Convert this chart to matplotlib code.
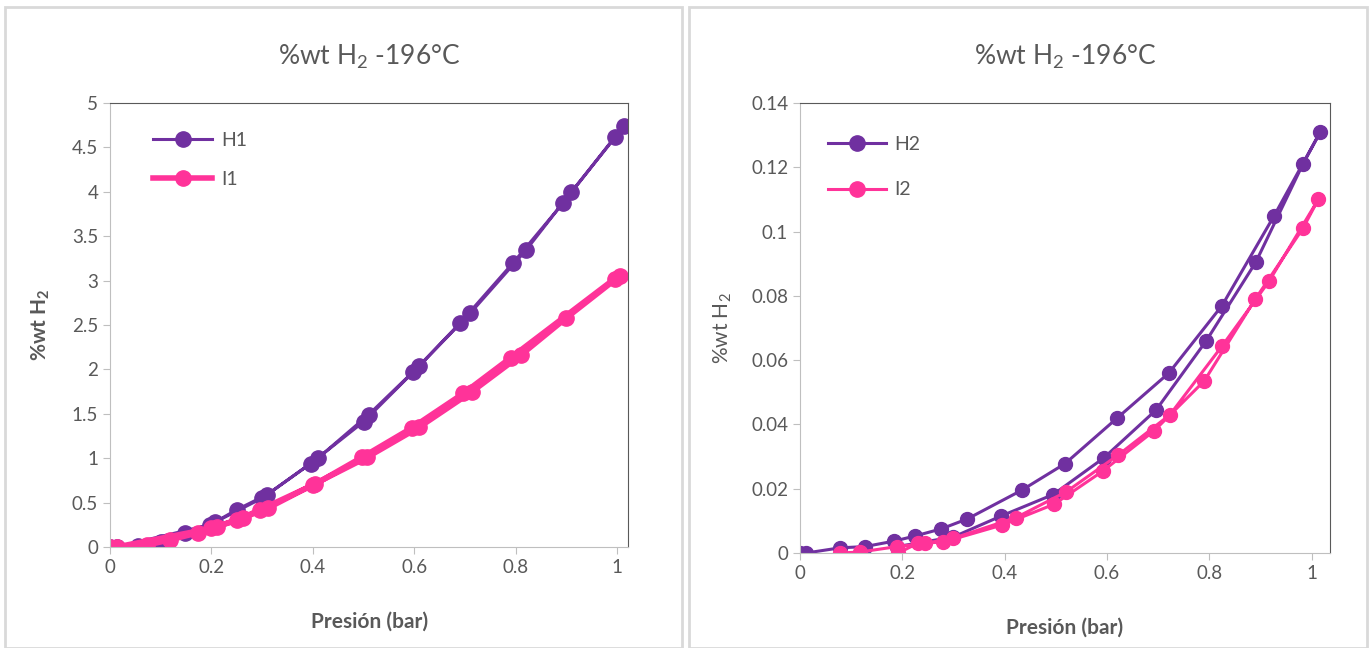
import matplotlib.pyplot as plt
from matplotlib.patches import Rectangle

plt.rcParams['font.family'] = ['Lato', 'DejaVu Sans']
plt.rcParams['mathtext.fontset'] = 'custom'
plt.rcParams['mathtext.rm'] = 'Lato'
plt.rcParams['mathtext.bf'] = 'Lato:bold'

# --- data (adsorption up, desorption back down) ---
h1_p = [0.0, 0.055, 0.10, 0.148, 0.207, 0.25, 0.31, 0.41, 0.51, 0.61, 0.71, 0.82, 0.91, 1.014,
        0.996, 0.893, 0.795, 0.69, 0.598, 0.50, 0.396, 0.30, 0.197, 0.013]
h1_w = [0.0, 0.01, 0.06, 0.16, 0.28, 0.42, 0.59, 1.00, 1.49, 2.04, 2.63, 3.34, 4.00, 4.74,
        4.62, 3.87, 3.20, 2.52, 1.97, 1.41, 0.94, 0.55, 0.25, 0.0]

i1_p = [0.0, 0.072, 0.118, 0.174, 0.21, 0.263, 0.312, 0.40, 0.507, 0.61, 0.714, 0.81, 0.90, 1.005,
        0.995, 0.79, 0.697, 0.595, 0.497, 0.405, 0.296, 0.25, 0.20, 0.013]
i1_w = [0.0, 0.02, 0.08, 0.16, 0.23, 0.33, 0.44, 0.70, 1.01, 1.35, 1.75, 2.16, 2.58, 3.05,
        3.02, 2.13, 1.73, 1.34, 1.01, 0.71, 0.42, 0.30, 0.21, 0.0]

h2_p = [0.0, 0.012, 0.078, 0.127, 0.184, 0.225, 0.276, 0.327, 0.433, 0.518, 0.62, 0.721, 0.825, 0.927, 1.017,
        0.983, 0.891, 0.794, 0.696, 0.594, 0.495, 0.393, 0.30, 0.19]
h2_w = [0.0, 0.0, 0.0016, 0.002, 0.0037, 0.0053, 0.0075, 0.0106, 0.0195, 0.0278, 0.042, 0.056, 0.077, 0.105, 0.131,
        0.121, 0.0905, 0.066, 0.0445, 0.0296, 0.0182, 0.0115, 0.005, 0.002]

i2_p = [0.078, 0.117, 0.19, 0.244, 0.30, 0.422, 0.52, 0.622, 0.723, 0.825, 0.917, 1.013,
        0.983, 0.89, 0.79, 0.692, 0.592, 0.497, 0.395, 0.28, 0.23, 0.192]
i2_w = [0.0, 0.0003, 0.002, 0.003, 0.0046, 0.011, 0.019, 0.0305, 0.043, 0.0644, 0.0846, 0.110,
        0.101, 0.079, 0.0535, 0.038, 0.0255, 0.0152, 0.0087, 0.0034, 0.003, 0.0]

purple = '#7030A0'
pink = '#FF3399'
grey_txt = '#595959'

fig = plt.figure(figsize=(13.72, 6.48), dpi=100)

# panel frames
fig.patches.append(Rectangle((0.004, 0.0), 0.493, 0.989, transform=fig.transFigure,
                             fill=False, edgecolor='#D9D9D9', linewidth=2))
fig.patches.append(Rectangle((0.502, 0.0), 0.494, 0.989, transform=fig.transFigure,
                             fill=False, edgecolor='#D9D9D9', linewidth=2))

ax1 = fig.add_axes([0.0802, 0.1559, 0.3776, 0.6852])
ax2 = fig.add_axes([0.5831, 0.1466, 0.3863, 0.6944])


def style(ax, bold_y):
    for s in ['left', 'bottom']:
        ax.spines[s].set_color('#BFBFBF')
    for s in ['top', 'right']:
        ax.spines[s].set_color('#595959')
    ax.tick_params(colors='#BFBFBF', labelcolor=grey_txt, labelsize=13.5, length=5, direction='out')
    ax.set_title('%wt H$_\\mathregular{2}$ -196°C', fontsize=19, color=grey_txt, pad=28)
    ax.set_xlabel('Presión (bar)', fontsize=15, fontweight='bold', color=grey_txt, labelpad=26)
    if bold_y:
        ax.set_ylabel('%wt H$_\\mathbf{2}$', fontsize=15, fontweight='bold', color=grey_txt, labelpad=14)
    else:
        ax.set_ylabel('%wt H$_\\mathregular{2}$', fontsize=15, color=grey_txt, labelpad=12)


# --- left chart ---
ax1.plot(h1_p, h1_w, '-o', color=purple, lw=2.2, ms=11, label='H1')
ax1.plot(i1_p, i1_w, '-o', color=pink, lw=4, ms=11, label='I1')
ax1.set_xlim(0, 1.0217)
ax1.set_ylim(0, 5)
ax1.set_xticks([0, 0.2, 0.4, 0.6, 0.8, 1])
ax1.set_xticklabels(['0', '0.2', '0.4', '0.6', '0.8', '1'])
ax1.set_yticks([0, 0.5, 1, 1.5, 2, 2.5, 3, 3.5, 4, 4.5, 5])
ax1.set_yticklabels(['0', '0.5', '1', '1.5', '2', '2.5', '3', '3.5', '4', '4.5', '5'])
style(ax1, True)
ax1.legend(loc='upper left', bbox_to_anchor=(0.05, 0.975), frameon=False, fontsize=14,
           handlelength=3.0, labelcolor=grey_txt, labelspacing=1.15, markerscale=1.0,
           handletextpad=0.5)

# --- right chart ---
ax2.plot(h2_p, h2_w, '-o', color=purple, lw=2.2, ms=10, label='H2')
ax2.plot(i2_p, i2_w, '-o', color=pink, lw=2.2, ms=10, label='I2')
ax2.set_xlim(0, 1.036)
ax2.set_ylim(0, 0.14)
ax2.set_xticks([0, 0.2, 0.4, 0.6, 0.8, 1])
ax2.set_xticklabels(['0', '0.2', '0.4', '0.6', '0.8', '1'])
ax2.set_yticks([0, 0.02, 0.04, 0.06, 0.08, 0.1, 0.12, 0.14])
ax2.set_yticklabels(['0', '0.02', '0.04', '0.06', '0.08', '0.1', '0.12', '0.14'])
style(ax2, False)
ax2.legend(loc='upper left', bbox_to_anchor=(0.02, 0.965), frameon=False, fontsize=14,
           handlelength=3.0, labelcolor=grey_txt, labelspacing=1.45, markerscale=1.1,
           handletextpad=0.4)

fig.savefig('out.png', dpi=100)
